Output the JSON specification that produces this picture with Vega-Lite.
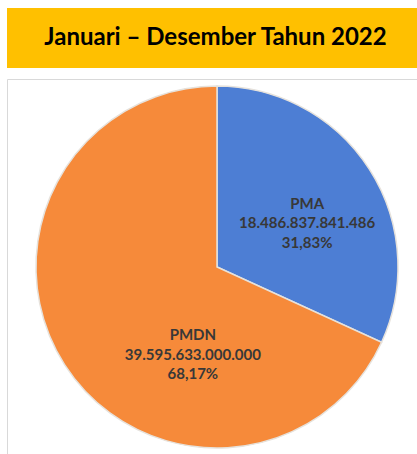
{
  "$schema": "https://vega.github.io/schema/vega-lite/v6.json",
  "background": "white",
  "padding": {"left": 6, "top": 8, "right": 0, "bottom": 0},
  "spacing": 10,
  "config": {"view": {"stroke": null}},
  "datasets": {
    "share": [
      {"kategori": "PMA", "nilai": 18486837841486, "label": "PMA\n18.486.837.841.486\n31,83%"},
      {"kategori": "PMDN", "nilai": 39595633000000, "label": "PMDN\n39.595.633.000.000\n68,17%"}
    ],
    "judul": [{"judul": "Januari – Desember Tahun 2022"}]
  },
  "vconcat": [
    {
      "width": 411,
      "height": 60,
      "view": {"fill": "#FFC000", "stroke": null},
      "data": {"name": "judul"},
      "mark": {"type": "text", "font": "Lato", "fontWeight": "bold", "fontSize": 24, "color": "black", "baseline": "middle", "dx": 3},
      "encoding": {"text": {"field": "judul", "type": "nominal"}}
    },
    {
      "width": 420,
      "height": 376,
      "view": {"stroke": "#d9d9d9", "fill": "white"},
      "data": {"name": "share"},
      "encoding": {
        "theta": {"field": "nilai", "type": "quantitative", "stack": true},
        "order": {"field": "kategori", "type": "nominal"},
        "detail": {"field": "kategori", "type": "nominal"}
      },
      "layer": [
        {
          "mark": {"type": "arc", "outerRadius": 181, "stroke": "#e6e2dc", "strokeWidth": 1.5},
          "encoding": {
            "color": {"field": "kategori", "type": "nominal", "scale": {"domain": ["PMA", "PMDN"], "range": ["#4d7ed4", "#f68a3a"]}, "legend": null}
          }
        },
        {
          "mark": {"type": "text", "radius": 100, "dx": 6, "dy": -9, "lineBreak": "\n", "font": "Lato", "fontWeight": "bold", "fontSize": 15, "color": "#383838", "lineHeight": 19.5, "align": "center", "baseline": "middle"},
          "encoding": {
            "text": {"condition": {"test": "datum.kategori === 'PMA'", "field": "label", "type": "nominal"}, "value": ""}
          }
        },
        {
          "mark": {"type": "text", "radius": 100, "dx": 60, "dy": 14, "lineBreak": "\n", "font": "Lato", "fontWeight": "bold", "fontSize": 15, "color": "#383838", "lineHeight": 19.5, "align": "center", "baseline": "middle"},
          "encoding": {
            "text": {"condition": {"test": "datum.kategori === 'PMDN'", "field": "label", "type": "nominal"}, "value": ""}
          }
        }
      ]
    }
  ]
}
